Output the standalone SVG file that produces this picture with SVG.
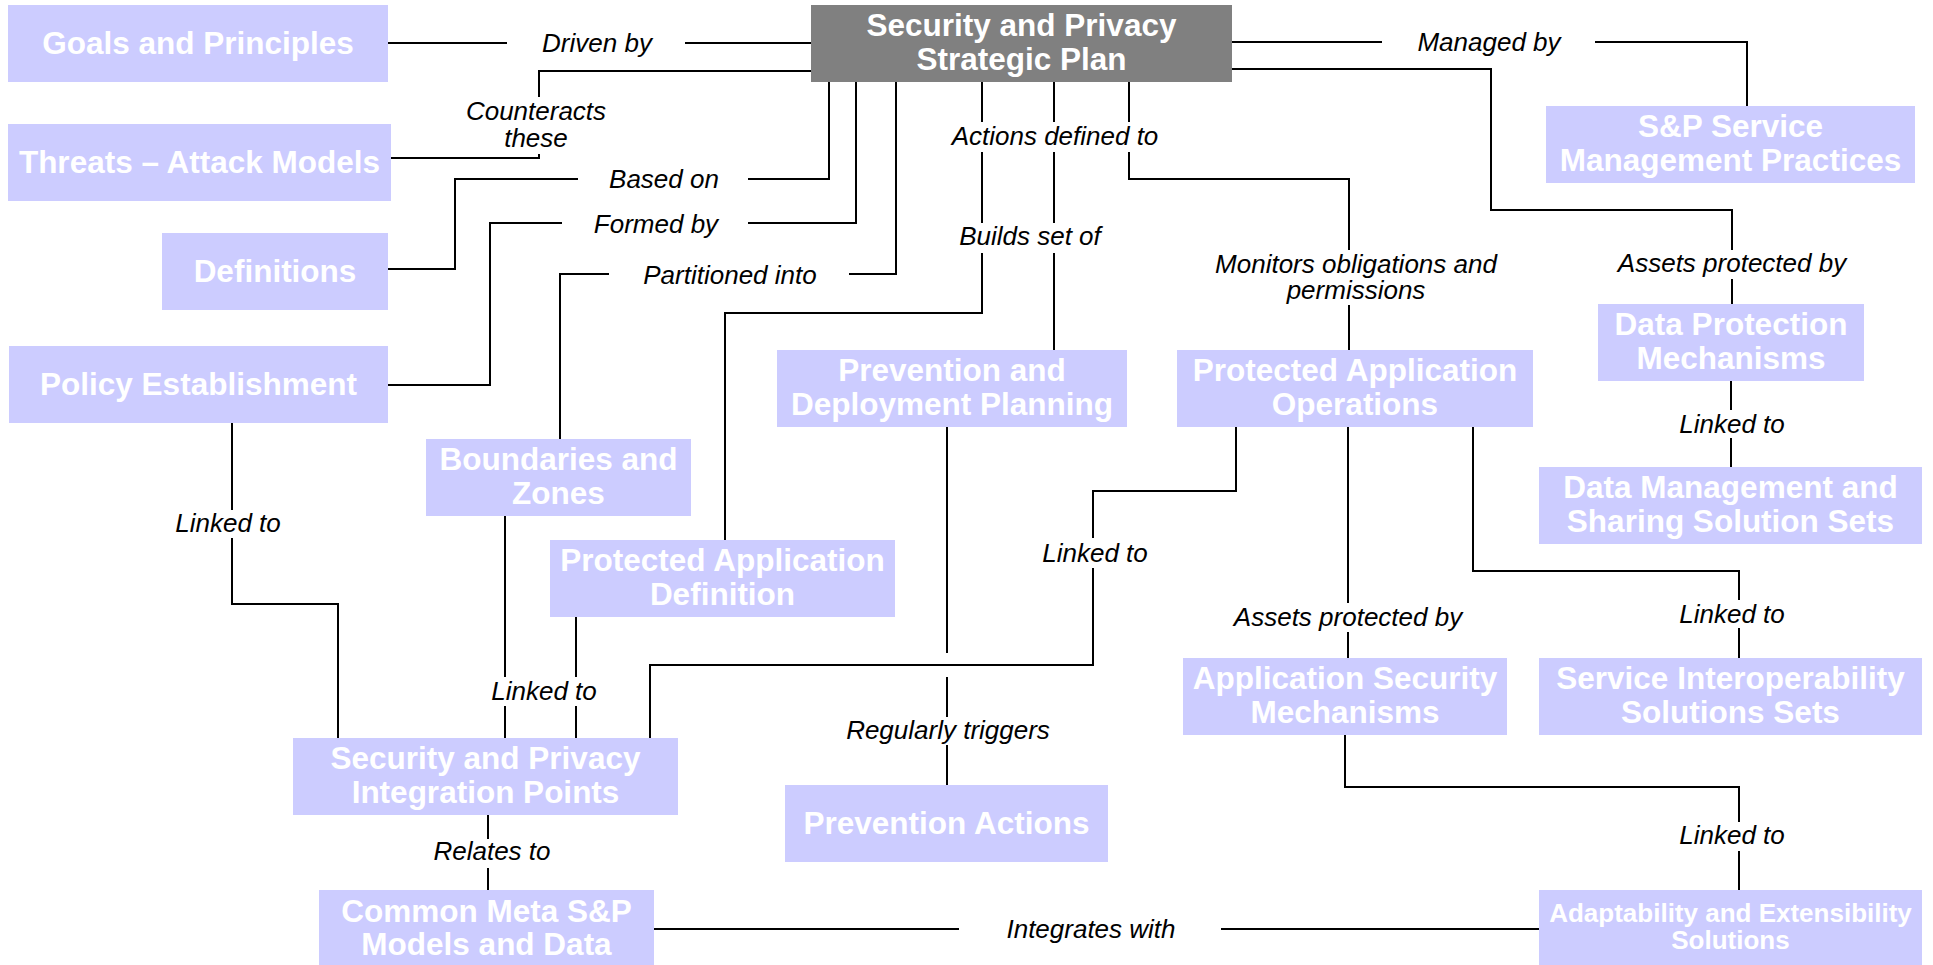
<svg xmlns="http://www.w3.org/2000/svg" width="1933" height="965" viewBox="0 0 1933 965">
<style>
.n rect{fill:#CCCCFF}
.n text{fill:#FFFFFF;font-family:"Liberation Sans",Arial,sans-serif;font-weight:bold;font-size:31.5px;text-anchor:middle}
.n text.sm{font-size:26px}
#plan rect{fill:#808080}
#connectors path{fill:none;stroke:#000;stroke-width:2}
#connectors text{fill:#000;font-family:"Liberation Sans",Arial,sans-serif;font-style:italic;font-size:26px;text-anchor:middle}
</style>
<rect width="1933" height="965" fill="#FFFFFF"/>
<g id="connectors">
<path d="M388,43 H507 M685,43 H811"/>
<path d="M811,71 H539 V97 M539,154 V158 H391"/>
<path d="M829,82 V179 H748 M578,179 H455 V269 H388"/>
<path d="M856,82 V223 H748 M562,223 H490 V385 H388"/>
<path d="M896,82 V274 H849 M609,274 H560 V439"/>
<path d="M982,82 V122 M982,152 V223 M982,253 V313 H725 V540"/>
<path d="M1054,82 V122 M1054,152 V223 M1054,253 V350"/>
<path d="M1129,82 V122 M1129,152 V179 H1349 V250 M1349,305 V350"/>
<path d="M1232,42 H1382 M1595,42 H1747 V106"/>
<path d="M1232,69 H1491 V210 H1732 V250 M1732,279 V304"/>
<path d="M1731,381 V410 M1731,438 V467"/>
<path d="M1473,427 V571 H1739 V600 M1739,628 V658"/>
<path d="M1348,427 V603 M1348,632 V658"/>
<path d="M1236,427 V491 H1093 V538 M1093,568 V665 H650 V738"/>
<path d="M947,427 V653 M947,677 V717 M947,745 V785"/>
<path d="M232,423 V510 M232,538 V604 H338 V738"/>
<path d="M505,516 V677 M505,706 V738"/>
<path d="M576,617 V677 M576,706 V738"/>
<path d="M488,815 V839 M488,868 V890"/>
<path d="M654,929 H959 M1221,929 H1539"/>
<path d="M1345,735 V787 H1739 V822 M1739,851 V890"/>
<text x="597" y="52">Driven by</text>
<text x="536" y="120">Counteracts</text>
<text x="536" y="147">these</text>
<text x="664" y="188">Based on</text>
<text x="656" y="233">Formed by</text>
<text x="730" y="284">Partitioned into</text>
<text x="1055" y="145">Actions defined to</text>
<text x="1030" y="245">Builds set of</text>
<text x="1356" y="273">Monitors obligations and</text>
<text x="1356" y="299">permissions</text>
<text x="1489" y="51">Managed by</text>
<text x="1732" y="272">Assets protected by</text>
<text x="1732" y="433">Linked to</text>
<text x="1095" y="562">Linked to</text>
<text x="1732" y="623">Linked to</text>
<text x="1348" y="626">Assets protected by</text>
<text x="948" y="739">Regularly triggers</text>
<text x="228" y="532">Linked to</text>
<text x="544" y="700">Linked to</text>
<text x="492" y="860">Relates to</text>
<text x="1091" y="938">Integrates with</text>
<text x="1732" y="844">Linked to</text>
</g>
<g id="goals" class="n"><rect x="8" y="5" width="380" height="77"/><text x="198" y="54">Goals and Principles</text></g>
<g id="plan" class="n"><rect x="811" y="5" width="421" height="77"/><text x="1021.5" y="36">Security and Privacy</text><text x="1021.5" y="70">Strategic Plan</text></g>
<g id="threats" class="n"><rect x="8" y="124" width="383" height="77"/><text x="199.5" y="173">Threats – Attack Models</text></g>
<g id="definitions" class="n"><rect x="162" y="233" width="226" height="77"/><text x="275" y="282">Definitions</text></g>
<g id="policy" class="n"><rect x="9" y="346" width="379" height="77"/><text x="198.5" y="395">Policy Establishment</text></g>
<g id="boundaries" class="n"><rect x="426" y="439" width="265" height="77"/><text x="558.5" y="470">Boundaries and</text><text x="558.5" y="504">Zones</text></g>
<g id="pad" class="n"><rect x="550" y="540" width="345" height="77"/><text x="722.5" y="571">Protected Application</text><text x="722.5" y="605">Definition</text></g>
<g id="pdp" class="n"><rect x="777" y="350" width="350" height="77"/><text x="952" y="381">Prevention and</text><text x="952" y="415">Deployment Planning</text></g>
<g id="pao" class="n"><rect x="1177" y="350" width="356" height="77"/><text x="1355" y="381">Protected Application</text><text x="1355" y="415">Operations</text></g>
<g id="dpm" class="n"><rect x="1598" y="304" width="266" height="77"/><text x="1731" y="335">Data Protection</text><text x="1731" y="369">Mechanisms</text></g>
<g id="dmss" class="n"><rect x="1539" y="467" width="383" height="77"/><text x="1730.5" y="498">Data Management and</text><text x="1730.5" y="532">Sharing Solution Sets</text></g>
<g id="spsm" class="n"><rect x="1546" y="106" width="369" height="77"/><text x="1730.5" y="137">S&amp;P Service</text><text x="1730.5" y="171">Management Practices</text></g>
<g id="asm" class="n"><rect x="1183" y="658" width="324" height="77"/><text x="1345" y="689">Application Security</text><text x="1345" y="723">Mechanisms</text></g>
<g id="siss" class="n"><rect x="1539" y="658" width="383" height="77"/><text x="1730.5" y="689">Service Interoperability</text><text x="1730.5" y="723">Solutions Sets</text></g>
<g id="pa" class="n"><rect x="785" y="785" width="323" height="77"/><text x="946.5" y="834">Prevention Actions</text></g>
<g id="aes" class="n"><rect x="1539" y="890" width="383" height="77"/><text class="sm" x="1730.5" y="922">Adaptability and Extensibility</text><text class="sm" x="1730.5" y="949">Solutions</text></g>
<g id="sip" class="n"><rect x="293" y="738" width="385" height="77"/><text x="485.5" y="769">Security and Privacy</text><text x="485.5" y="803">Integration Points</text></g>
<g id="cmm" class="n"><rect x="319" y="890" width="335" height="77"/><text x="486.5" y="922">Common Meta S&amp;P</text><text x="486.5" y="955">Models and Data</text></g>
</svg>
